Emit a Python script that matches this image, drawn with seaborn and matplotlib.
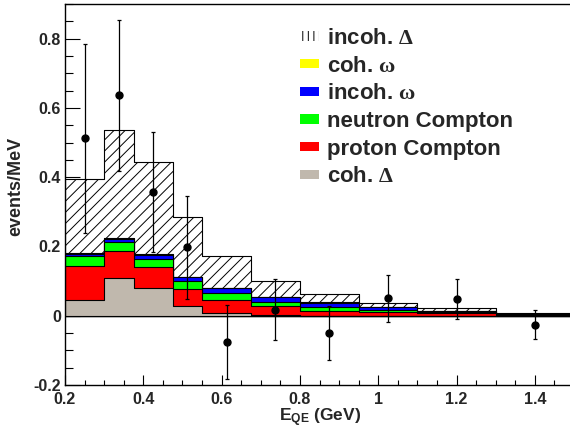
import numpy as np
import pandas as pd
import matplotlib
matplotlib.use('Agg')
import matplotlib.pyplot as plt
from matplotlib.patches import Patch
from matplotlib.ticker import MultipleLocator, FixedLocator, FixedFormatter
import seaborn as sns

# bin edges in E_QE (GeV)
edges = [0.2, 0.3, 0.375, 0.475, 0.55, 0.675, 0.8, 0.95, 1.1, 1.3, 1.5]

# stacked components (events/MeV), bottom to top
coh_delta = [0.044, 0.108, 0.079, 0.029, 0.008, 0.001, 0.0, 0.0, 0.0, 0.0]
proton_compton = [0.100, 0.080, 0.061, 0.049, 0.038, 0.028, 0.015, 0.011, 0.007, 0.003]
neutron_compton = [0.029, 0.026, 0.025, 0.021, 0.019, 0.012, 0.010, 0.005, 0.003, 0.001]
incoh_omega = [0.006, 0.008, 0.010, 0.013, 0.014, 0.013, 0.013, 0.009, 0.004, 0.002]
coh_omega = [0.001, 0.002, 0.003, 0.001, 0.001, 0.001, 0.001, 0.001, 0.001, 0.000]
incoh_delta = [0.215, 0.311, 0.266, 0.172, 0.091, 0.046, 0.024, 0.011, 0.006, 0.003]

# data points
data_x = [0.25, 0.3375, 0.425, 0.5125, 0.6125, 0.7375, 0.875, 1.025, 1.2, 1.4]
data_y = [0.512, 0.636, 0.358, 0.197, -0.076, 0.017, -0.050, 0.050, 0.048, -0.026]
data_err = [0.272, 0.218, 0.173, 0.150, 0.107, 0.088, 0.078, 0.068, 0.058, 0.042]

sns.set_theme(style='white')
plt.rcParams['font.family'] = ['Liberation Sans', 'DejaVu Sans']
plt.rcParams['font.weight'] = 'bold'
plt.rcParams['mathtext.fontset'] = 'custom'
plt.rcParams['mathtext.rm'] = 'Liberation Serif'
plt.rcParams['mathtext.it'] = 'Liberation Serif'
plt.rcParams['mathtext.bf'] = 'Liberation Sans:bold'
plt.rcParams['hatch.linewidth'] = 0.7

fig = plt.figure(figsize=(5.7, 4.34), dpi=100)
ax = fig.add_axes([65 / 570, 49 / 434, 509 / 570, 381 / 434])

centers = [(a + b) / 2 for a, b in zip(edges[:-1], edges[1:])]
layers = [
    ('coh. $\\Delta$', coh_delta, '#c0b8ad', None),
    ('proton Compton', proton_compton, '#ff0000', None),
    ('neutron Compton', neutron_compton, '#00ff00', None),
    ('incoh. $\\omega$', incoh_omega, '#0000ff', None),
    ('coh. $\\omega$', coh_omega, '#ffff00', None),
    ('incoh. $\\Delta$', incoh_delta, 'white', '///'),
]

# cumulative tops, draw from the top layer down so lower ones cover
cum = np.cumsum(np.array([l[1] for l in layers]), axis=0)
for i in range(len(layers) - 1, -1, -1):
    name, vals, col, hatch = layers[i]
    df = pd.DataFrame({'x': centers, 'w': cum[i]})
    kw = dict(hatch=hatch) if hatch else {}
    sns.histplot(data=df, x='x', weights='w', bins=edges, element='step',
                 fill=True, facecolor=col, edgecolor='black', linewidth=0.8,
                 alpha=1, ax=ax, **kw)

ax.errorbar(data_x, data_y, yerr=data_err, fmt='o', color='black',
            markersize=5, elinewidth=0.9, capsize=1.5, capthick=0.9, zorder=5)

ax.set_xlim(0.2, 1.5)
ax.set_ylim(-0.2, 0.9)
ax.set_xlabel('')
ax.set_ylabel('')

ax.xaxis.set_major_locator(MultipleLocator(0.2))
ax.xaxis.set_minor_locator(MultipleLocator(0.05))
ax.yaxis.set_major_locator(FixedLocator([-0.2, 0, 0.2, 0.4, 0.6, 0.8]))
ax.yaxis.set_major_formatter(FixedFormatter(['-0.2', '0', '0.2', '0.4', '0.6', '0.8']))
ax.yaxis.set_minor_locator(MultipleLocator(0.05))
ax.xaxis.set_major_formatter(matplotlib.ticker.FuncFormatter(lambda v, p: f'{v:g}'))

ax.tick_params(axis='both', which='both', direction='in', labelsize=11.5,
               color='black', width=0.8)
ax.tick_params(axis='y', which='major', length=10.8, pad=3)
ax.tick_params(axis='y', which='minor', length=5.5)
ax.tick_params(axis='x', which='major', length=7.2, pad=5)
ax.tick_params(axis='x', which='minor', length=3.4)
ax.tick_params(left=True, bottom=True, which='both')
for t in ax.get_xticklabels() + ax.get_yticklabels():
    t.set_fontweight('bold')
for s in ax.spines.values():
    s.set_color('black')
    s.set_linewidth(1.0)

fig.text(320 / 570, 1 - 418 / 434, r'E$_{\mathbf{QE}}$ (GeV)', ha='center',
         va='center', fontsize=12.5, fontweight='bold')
fig.text(16 / 570, 1 - 186 / 434, 'events/MeV', rotation=90, ha='center',
         va='center', fontsize=13, fontweight='bold')

handles = [Patch(facecolor='white', edgecolor='black', hatch='|||', linewidth=0)]
labels = [layers[5][0]]
for name, vals, col, hatch in layers[4::-1]:
    handles.append(Patch(facecolor=col, edgecolor='none'))
    labels.append(name)
leg = fig.legend(handles, labels, loc='upper left',
                 bbox_to_anchor=(300 / 570, 1 - 28 / 434), frameon=False,
                 fontsize=16, handlelength=0.86, handleheight=0.25,
                 handletextpad=0.36, labelspacing=0.3, borderpad=0,
                 borderaxespad=0)
for t in leg.get_texts():
    t.set_fontweight('bold')

fig.savefig('out.png', dpi=100)
